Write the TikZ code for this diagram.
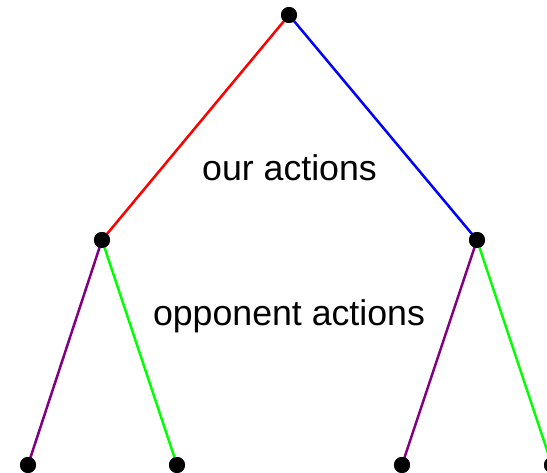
\documentclass[tikz,border=0pt]{standalone}
\usepackage{fontspec}
\setmainfont{Liberation Sans}
\usetikzlibrary{positioning}
\definecolor{ourleft}  {HTML}{FF0000}
\definecolor{ourright} {HTML}{0000FF}
\definecolor{oppleft}  {HTML}{800080}
\definecolor{oppright} {HTML}{00FF00}
\tikzset{
  statedot/.style={
    circle, fill=black, draw=none,
    minimum size=16pt, inner sep=0pt
  },
  actionedge/.style={line width=2.5pt},
  treelabel/.style={font=\fontsize{35.7}{42}\selectfont, text=black}
}

\begin{document}
\begin{tikzpicture}[x=1pt, y=-1pt]
    \useasboundingbox (0,0) rectangle (547,473);

    \node[statedot] (root) at (289,15) {};
    \node[statedot] (l) at (102,240) {};
    \node[statedot] (r) at (477,240) {};
    \node[statedot] (ll) at (28,465) {};
    \node[statedot] (lr) at (177,465) {};
    \node[statedot] (rl) at (402,465) {};
    \node[statedot] (rr) at (552,465) {};

    \draw[actionedge, ourleft] (root.center) -- (l.center);
    \draw[actionedge, ourright] (root.center) -- (r.center);
    \draw[actionedge, oppleft] (l.center) -- (ll.center);
    \draw[actionedge, oppright] (l.center) -- (lr.center);
    \draw[actionedge, oppleft] (r.center) -- (rl.center);
    \draw[actionedge, oppright] (r.center) -- (rr.center);

    % dots on top of the edges
    \foreach \n in {root,l,r,ll,lr,rl,rr}
      \fill (\n) circle (8pt);

    \node[treelabel] (ours) at (289.5,168) {our actions};
    \node[treelabel] (opps) at (289,316) {opponent actions};
  \end{tikzpicture}
\end{document}
